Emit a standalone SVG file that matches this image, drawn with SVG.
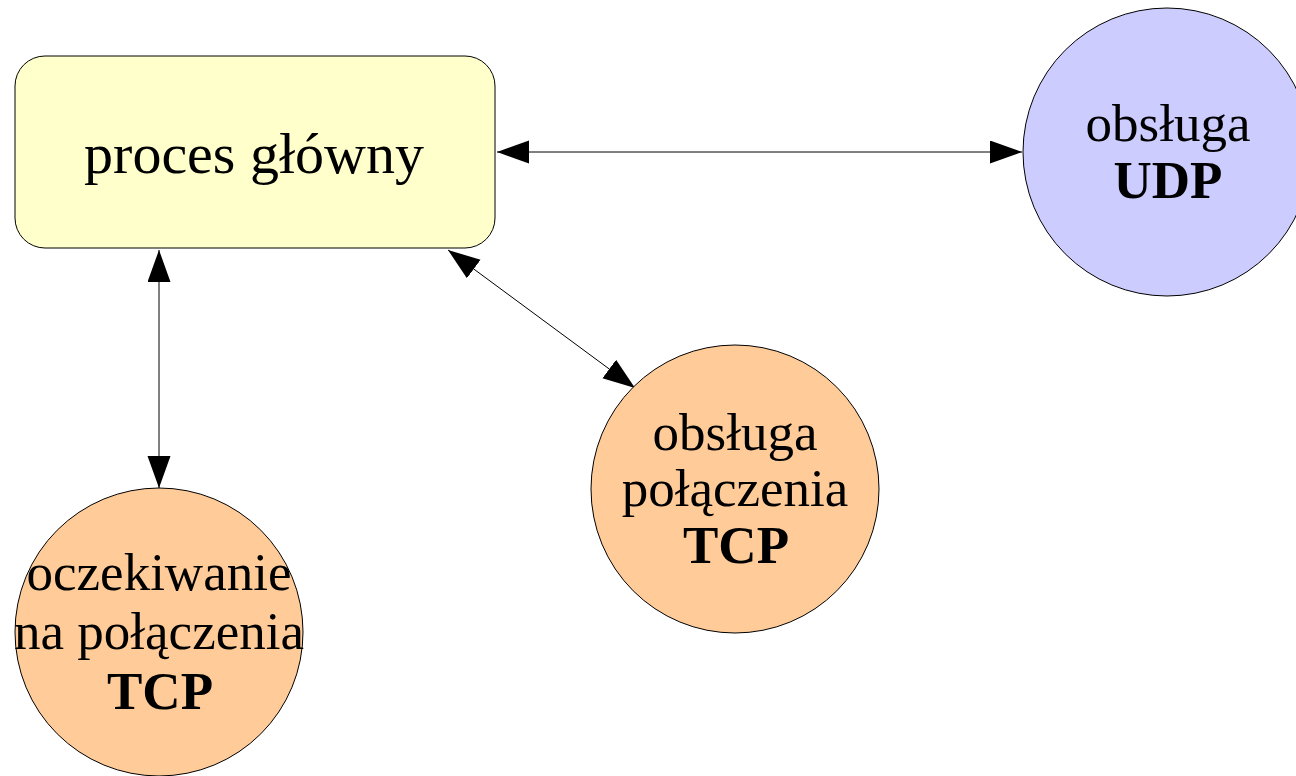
<svg xmlns="http://www.w3.org/2000/svg" width="1296" height="776" viewBox="0 0 1296 776">
  <style>
    .shape { stroke: #000; stroke-width: 1; }
    .main { fill: #ffffcc; }
    .udp { fill: #ccccff; }
    .tcp { fill: #ffcc99; }
    .label { font-family: "Liberation Serif", "Times New Roman", serif; font-size: 53px; fill: #000; text-anchor: middle; }
    .title { font-size: 58px; }
    .bold { font-weight: bold; }
    .link { stroke: #000; stroke-width: 1; fill: none; marker-start: url(#head); marker-end: url(#head); }
  </style>
  <defs>
    <marker id="head" markerUnits="userSpaceOnUse" markerWidth="34" markerHeight="24" refX="32" refY="11.5" orient="auto-start-reverse">
      <path d="M0,0 L32,11.5 L0,23 Z" fill="#000"/>
    </marker>
  </defs>
  <rect width="1296" height="776" fill="#fff"/>

  <g id="connectors">
    <line class="link" x1="497" y1="152" x2="1022" y2="152"/>
    <line class="link" x1="159" y1="250" x2="159" y2="488"/>
    <line class="link" x1="448" y1="250" x2="635" y2="388"/>
  </g>

  <g id="proces-glowny">
    <rect class="shape main" x="15" y="56" width="480" height="192" rx="30" ry="30"/>
    <text class="label title" x="254" y="173">proces główny</text>
  </g>

  <g id="obsluga-udp">
    <circle class="shape udp" cx="1167" cy="152" r="144"/>
    <text class="label" x="1168" y="141">obsługa</text>
    <text class="label bold" x="1168" y="198">UDP</text>
  </g>

  <g id="obsluga-tcp">
    <circle class="shape tcp" cx="735" cy="489" r="144"/>
    <text class="label" x="735" y="450">obsługa</text>
    <text class="label" x="735" y="506">połączenia</text>
    <text class="label bold" x="736" y="563">TCP</text>
  </g>

  <g id="oczekiwanie-tcp">
    <circle class="shape tcp" cx="159" cy="632" r="144"/>
    <text class="label" x="159" y="590">oczekiwanie</text>
    <text class="label" x="159" y="649">na połączenia</text>
    <text class="label bold" x="160" y="709">TCP</text>
  </g>
</svg>
